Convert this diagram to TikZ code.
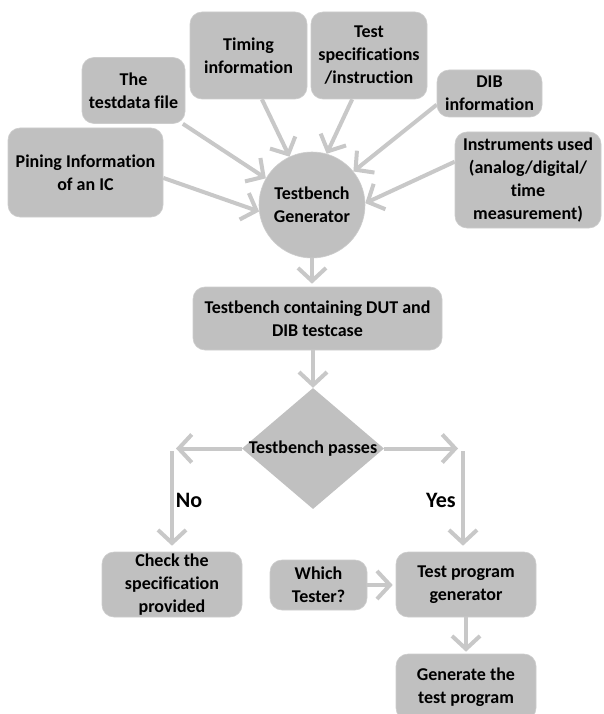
\documentclass[tikz,border=0pt]{standalone}
\usepackage{fontspec}
\setmainfont{Carlito}[Ligatures=NoCommon]
\usetikzlibrary{arrows.meta,shapes.geometric,calc}
\definecolor{boxgray}{RGB}{192,192,192}
\definecolor{arrowgray}{RGB}{200,200,200}
\begin{document}
\begin{tikzpicture}[x=1pt,y=-1pt,
  box/.style={draw=boxgray!80!white, line width=0.6pt, fill=boxgray, rounded corners=12pt, align=center, inner sep=0pt,
    font=\fontsize{18}{23}\selectfont\bfseries},
  arr/.style={draw=arrowgray, line width=4pt, -{Straight Barb[length=13pt,width=28pt]}},
  lbl/.style={font=\fontsize{22}{26}\selectfont\bfseries, inner sep=0pt}]
\useasboundingbox (0,0) rectangle (603,714);
\clip (0,0) rectangle (603,714);
\fill[white] (0,0) rectangle (603,714);
% input boxes
\node[box, minimum width=155pt, minimum height=89pt] (pin) at (85.5,172.5) {Pining Information\\of an IC};
\node[box, minimum width=103pt, minimum height=66pt] (tdf) at (133.5,90.5) {The\\testdata file};
\node[box, minimum width=117pt, minimum height=87pt] (tim) at (248.5,55.5) {Timing\\information};
\node[box, minimum width=116pt, minimum height=87pt] (spec) at (369,55.5) {Test\\specifications\\/instruction};
\node[box, minimum width=105pt, minimum height=47pt] (dib) at (489.5,93.5) {DIB\\information};
\node[box, minimum width=146pt, minimum height=96pt] (inst) at (528,180) {Instruments used\\(analog/digital/\\time\\measurement)};
% generator
\node[circle, fill=boxgray, draw=boxgray!80!white, line width=0.6pt, minimum size=106pt, inner sep=0pt, align=center,
  font=\fontsize{18}{23}\selectfont\bfseries] (gen) at (312,205) {Testbench\\Generator};
% testbench
\node[box, minimum width=249pt, minimum height=63pt] (tb) at (317.5,318.5) {Testbench containing DUT and\\DIB testcase};
% decision
\node[diamond, fill=boxgray, minimum width=142pt, minimum height=121pt, inner sep=0pt] (dia) at (313,448.5) {};
\node[font=\fontsize{18}{23}\selectfont\bfseries, inner sep=0pt] (diat) at (dia.center) {Testbench passes};
% lower boxes
\node[box, minimum width=140pt, minimum height=65pt] (chk) at (172,584.5) {Check the\\specification\\provided};
\node[box, minimum width=97pt, minimum height=50pt] (which) at (318.5,585) {Which\\Tester?};
\node[box, minimum width=140pt, minimum height=65pt] (tpg) at (466,584.5) {Test program\\generator};
\node[box, minimum width=140pt, minimum height=66pt] (gtp) at (466,687) {Generate the\\test program};
% labels
\node[lbl] (no) at (189,500) {No};
\node[lbl] (yes) at (441,500) {Yes};
% coordinates for branches
\coordinate (cl) at (176,448.5);
\coordinate (nl) at (172,451);
\coordinate (cr) at (458,448.5);
\coordinate (nr) at (463,451);
% arrows into generator
\draw[arr] (pin.-4) -- (gen.187);
\draw[arr] (tdf.-34) -- (gen.150);
\draw[arr] (tim.-73) -- (gen.115);
\draw[arr] (spec.-111) -- (gen.74);
\draw[arr] (dib.192) -- (gen.39);
\draw[arr] (inst.166) -- (gen.2);
% main flow
\draw[arr, shorten >=3pt] (gen.south) -- (gen.south |- tb.north);
\draw[arr] ($(tb.south)+(-4.5,0)$) -- (dia.north);
\draw[arr] (dia.west) -- (cl);
\draw[arr, shorten >=6pt] (nl) -- (nl |- chk.north);
\draw[arr] (dia.east) -- (cr);
\draw[arr, shorten >=6pt] (nr) -- (nr |- tpg.north);
\draw[arr, shorten >=3pt] (which.east) -- (which.east -| tpg.west);
\draw[arr, shorten >=2pt] (tpg.south) -- (gtp.north);
\end{tikzpicture}
\end{document}
